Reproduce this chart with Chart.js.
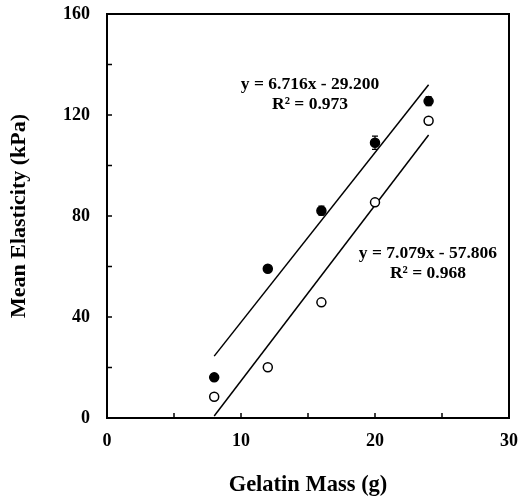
<!DOCTYPE html>
<html>
<head>
<meta charset="utf-8">
<script src="https://cdn.jsdelivr.net/npm/chart.js@4/dist/chart.umd.min.js"></script>
<style>
  html, body { margin: 0; padding: 0; background: #fff; }
  #wrap { width: 521px; height: 502px; }
</style>
</head>
<body>
<div id="wrap"><canvas id="chart" width="521" height="502"></canvas></div>
<script>
// gelatin mass (g)
const gelatinMass = [8, 12, 16, 20, 24];
// filled circles and their error bars
const filledValues = [16.1, 59.1, 82.1, 109.0, 125.5];
const filledErrors = [1.2, 1.2, 1.8, 2.6, 1.8];
// open circles
const openValues = [8.4, 20.1, 45.8, 85.4, 117.7];
// trend lines (end points)
const trendX = [8, 24];
const filledTrend = [24.5, 132.0];
const openTrend = [0.8, 112.1];
// axis labels
const xTickLabels = [0, 10, 20, 30];
const yTickLabels = [0, 40, 80, 120, 160];

const font = "'Liberation Serif', 'Times New Roman', serif";

// box, inward tick marks, error bars and equations
const extras = {
    id: 'extras',
    afterDatasetsDraw(chart) {
        const ctx = chart.ctx;
        const a = chart.chartArea;
        const xs = chart.scales.x, ys = chart.scales.y;
        ctx.save();
        ctx.strokeStyle = '#000';
        ctx.lineWidth = 2;
        ctx.strokeRect(a.left, a.top, a.right - a.left, a.bottom - a.top);

        ctx.lineWidth = 1.5;
        ctx.beginPath();
        for (let v = 5; v < 30; v += 5) {
            const px = xs.getPixelForValue(v);
            ctx.moveTo(px, a.bottom);
            ctx.lineTo(px, a.bottom - 5);
        }
        for (let v = 20; v < 160; v += 20) {
            const py = ys.getPixelForValue(v);
            ctx.moveTo(a.left, py);
            ctx.lineTo(a.left + 5, py);
        }
        ctx.stroke();

        // error bars
        ctx.lineWidth = 1.2;
        ctx.beginPath();
        gelatinMass.forEach((m, i) => {
            const px = xs.getPixelForValue(m);
            const top = ys.getPixelForValue(filledValues[i] + filledErrors[i]);
            const bot = ys.getPixelForValue(filledValues[i] - filledErrors[i]);
            ctx.moveTo(px, top); ctx.lineTo(px, bot);
            ctx.moveTo(px - 3, top); ctx.lineTo(px + 3, top);
            ctx.moveTo(px - 3, bot); ctx.lineTo(px + 3, bot);
        });
        ctx.stroke();

        // equations
        ctx.fillStyle = '#000';
        ctx.font = 'bold 17.5px ' + font;
        ctx.textAlign = 'center';
        ctx.textBaseline = 'middle';
        ctx.fillText('y = 6.716x - 29.200', xs.getPixelForValue(15.15), ys.getPixelForValue(131.9));
        ctx.fillText('R² = 0.973', xs.getPixelForValue(15.15), ys.getPixelForValue(124.0));
        ctx.fillText('y = 7.079x - 57.806', xs.getPixelForValue(23.95), ys.getPixelForValue(65.0));
        ctx.fillText('R² = 0.968', xs.getPixelForValue(23.95), ys.getPixelForValue(57.4));
        ctx.restore();
    }
};

new Chart(document.getElementById('chart'), {
    type: 'scatter',
    data: {
        datasets: [
            {
                label: 'fit filled',
                data: trendX.map((x, i) => ({ x: x, y: filledTrend[i] })),
                showLine: true,
                borderColor: '#000',
                borderWidth: 1.5,
                pointRadius: 0,
                order: 3
            },
            {
                label: 'fit open',
                data: trendX.map((x, i) => ({ x: x, y: openTrend[i] })),
                showLine: true,
                borderColor: '#000',
                borderWidth: 1.5,
                pointRadius: 0,
                order: 3
            },
            {
                label: 'filled',
                data: gelatinMass.map((x, i) => ({ x: x, y: filledValues[i] })),
                pointRadius: 4.5,
                pointBackgroundColor: '#000',
                pointBorderColor: '#000',
                pointBorderWidth: 1.5,
                order: 1
            },
            {
                label: 'open',
                data: gelatinMass.map((x, i) => ({ x: x, y: openValues[i] })),
                pointRadius: 4.5,
                pointBackgroundColor: '#fff',
                pointBorderColor: '#000',
                pointBorderWidth: 1.5,
                order: 2
            }
        ]
    },
    options: {
        responsive: false,
        animation: false,
        clip: { left: 0, top: 0, right: 0, bottom: 0 },
        layout: { padding: 0 },
        plugins: {
            legend: { display: false },
            tooltip: { enabled: false }
        },
        scales: {
            x: {
                type: 'linear',
                min: 0,
                max: 30,
                afterBuildTicks: s => { s.ticks = xTickLabels.map(v => ({ value: v })); },
                ticks: {
                    color: '#000',
                    font: { family: font, size: 18, weight: 'bold' },
                    padding: 13,
                    maxRotation: 0
                },
                grid: { display: false, drawTicks: false },
                border: { display: false },
                title: {
                    display: true,
                    text: 'Gelatin Mass (g)',
                    color: '#000',
                    font: { family: font, size: 22.5, weight: 'bold' },
                    padding: { top: 0, bottom: 3 }
                },
                afterFit: s => { s.height = 84; s.paddingLeft = 0; s.paddingRight = 12; }
            },
            y: {
                type: 'linear',
                min: 0,
                max: 160,
                afterBuildTicks: s => { s.ticks = yTickLabels.map(v => ({ value: v })); },
                ticks: {
                    color: '#000',
                    font: { family: font, size: 18, weight: 'bold' },
                    padding: 17
                },
                grid: { display: false, drawTicks: false },
                border: { display: false },
                title: {
                    display: true,
                    text: 'Mean Elasticity (kPa)',
                    color: '#000',
                    font: { family: font, size: 22, weight: 'bold' },
                    padding: { top: 6, bottom: 0 }
                },
                afterFit: s => { s.width = 107; s.paddingTop = 14; s.paddingBottom = 0; }
            }
        }
    },
    plugins: [extras]
});
</script>
</body>
</html>
